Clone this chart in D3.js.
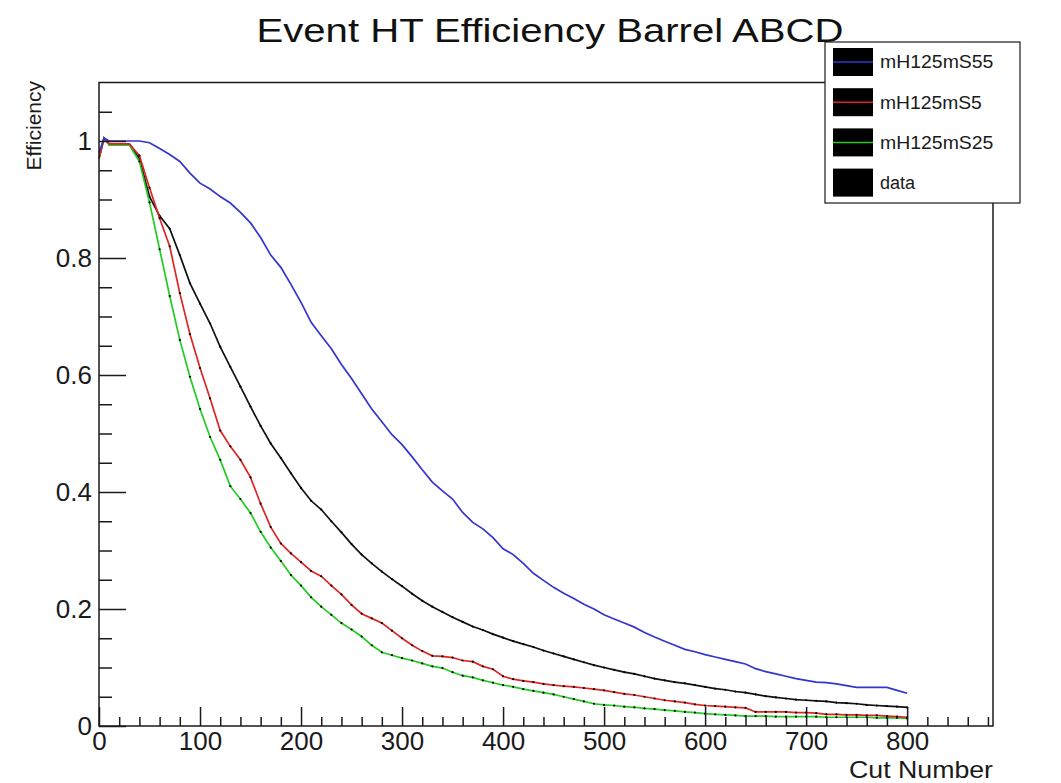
<!DOCTYPE html>
<html>
<head>
<meta charset="utf-8">
<script src="https://cdn.jsdelivr.net/npm/d3@7"></script>
<style>
  body { margin: 0; background: #fff; }
  svg { display: block; font-family: "Liberation Sans", Arial, sans-serif; }
</style>
</head>
<body>
<script>
// data
var cutNumbers = [0, 5, 10, 20, 30, 40, 50, 60, 70, 80, 90, 100, 110, 120, 130, 140, 150, 160, 170, 180, 190,
  200, 210, 220, 230, 240, 250, 260, 270, 280, 290, 300, 310, 320, 330, 340, 350, 360, 370, 380, 390,
  400, 410, 420, 430, 440, 450, 460, 470, 480, 490, 500, 510, 520, 530, 540, 550, 560, 570, 580, 590,
  600, 610, 620, 630, 640, 650, 660, 670, 680, 690, 700, 710, 720, 730, 740, 750, 760, 770, 780, 790, 800];

var effS55 = [0.98, 1.005, 1.0, 1.0, 1.0, 1.0, 0.997, 0.987, 0.977, 0.965, 0.945, 0.928, 0.918, 0.905, 0.894, 0.878, 0.86, 0.835, 0.805, 0.784, 0.755,
  0.724, 0.69, 0.667, 0.645, 0.618, 0.594, 0.568, 0.542, 0.52, 0.498, 0.481, 0.46, 0.438, 0.417, 0.402, 0.388, 0.365, 0.348, 0.337, 0.322,
  0.303, 0.293, 0.278, 0.261, 0.249, 0.237, 0.227, 0.218, 0.208, 0.2, 0.19, 0.183, 0.176, 0.169, 0.16, 0.152, 0.145, 0.138, 0.131, 0.127,
  0.122, 0.118, 0.114, 0.11, 0.106, 0.098, 0.093, 0.089, 0.085, 0.081, 0.078, 0.075, 0.074, 0.072, 0.069, 0.066, 0.066, 0.066, 0.066, 0.061, 0.056];

var effS5 = [0.97, 1.005, 0.995, 0.995, 0.995, 0.975, 0.92, 0.868, 0.82, 0.74, 0.67, 0.612, 0.56, 0.505, 0.478, 0.455, 0.425, 0.38, 0.34, 0.312, 0.295,
  0.28, 0.265, 0.256, 0.24, 0.225, 0.207, 0.192, 0.184, 0.176, 0.163, 0.15, 0.138, 0.128, 0.12, 0.119, 0.117, 0.112, 0.11, 0.102, 0.097,
  0.085, 0.08, 0.077, 0.075, 0.072, 0.07, 0.068, 0.067, 0.065, 0.063, 0.061, 0.058, 0.055, 0.053, 0.05, 0.047, 0.044, 0.042, 0.04, 0.037,
  0.035, 0.034, 0.033, 0.032, 0.031, 0.024, 0.024, 0.024, 0.024, 0.023, 0.023, 0.022, 0.02, 0.02, 0.019, 0.019, 0.018, 0.018, 0.017, 0.016, 0.015];

var effS25 = [0.97, 1.005, 0.993, 0.993, 0.993, 0.965, 0.895, 0.815, 0.735, 0.66, 0.597, 0.542, 0.494, 0.455, 0.41, 0.388, 0.364, 0.332, 0.305, 0.282, 0.258,
  0.24, 0.22, 0.204, 0.19, 0.176, 0.165, 0.153, 0.138, 0.126, 0.121, 0.116, 0.112, 0.107, 0.102, 0.099, 0.092, 0.086, 0.083, 0.078, 0.074,
  0.07, 0.067, 0.063, 0.06, 0.057, 0.054, 0.05, 0.046, 0.042, 0.038, 0.036, 0.035, 0.033, 0.032, 0.03, 0.029, 0.027, 0.026, 0.024, 0.023,
  0.021, 0.02, 0.019, 0.018, 0.017, 0.017, 0.017, 0.016, 0.016, 0.016, 0.016, 0.016, 0.015, 0.015, 0.015, 0.015, 0.015, 0.014, 0.014, 0.014, 0.013];

var effData = [0.97, 1.005, 0.995, 0.995, 0.995, 0.97, 0.905, 0.872, 0.85, 0.805, 0.757, 0.722, 0.688, 0.648, 0.614, 0.58, 0.546, 0.513, 0.483, 0.458, 0.432,
  0.407, 0.385, 0.37, 0.35, 0.331, 0.311, 0.293, 0.278, 0.264, 0.251, 0.239, 0.226, 0.214, 0.204, 0.195, 0.186, 0.178, 0.17, 0.164, 0.157,
  0.151, 0.145, 0.14, 0.135, 0.129, 0.124, 0.119, 0.114, 0.109, 0.104, 0.1, 0.096, 0.092, 0.089, 0.085, 0.081, 0.078, 0.075, 0.073, 0.07,
  0.067, 0.064, 0.062, 0.059, 0.057, 0.054, 0.051, 0.049, 0.047, 0.045, 0.044, 0.043, 0.042, 0.04, 0.039, 0.038, 0.036, 0.035, 0.034, 0.033, 0.032];

var seriesNames = ["mH125mS55", "mH125mS5", "mH125mS25", "data"];
var seriesColors = ["#3434d0", "#e02424", "#22cc22", "#111111"];
var seriesValues = [effS55, effS5, effS25, effData];

var xTickValues = [0, 100, 200, 300, 400, 500, 600, 700, 800];
var xTickLabels = ["0", "100", "200", "300", "400", "500", "600", "700", "800"];
var yTickValues = [0, 0.2, 0.4, 0.6, 0.8, 1];
var yTickLabels = ["0", "0.2", "0.4", "0.6", "0.8", "1"];

// svg container
var width = 1061;
var height = 783;

var margin = { top: 82.5, right: 68, bottom: 57, left: 99 };
var chartWidth = width - margin.left - margin.right;
var chartHeight = height - margin.top - margin.bottom;

var svg = d3.select("body").append("svg")
    .attr("width", width)
    .attr("height", height);

var chartGroup = svg.append("g")
    .attr("transform", `translate(${margin.left}, ${margin.top})`);

// scales
var xScale = d3.scaleLinear().domain([0, 885]).range([0, chartWidth]);
var yScale = d3.scaleLinear().domain([0, 1.1]).range([chartHeight, 0]);

// curves
var line = d3.line()
    .x(d => xScale(d[0]))
    .y(d => yScale(d[1]));

// draw back to front: data, S25, S5, S55
[3, 2, 1, 0].forEach(function(s) {
  var pts = cutNumbers.map((c, i) => [c, seriesValues[s][i]]);
  chartGroup.append("path")
      .datum(pts)
      .attr("fill", "none")
      .attr("stroke", seriesColors[s])
      .attr("stroke-width", 1.7)
      .attr("d", line);
  if (s > 0) {
    chartGroup.selectAll(".dot" + s)
        .data(pts.filter((d, i) => i > 4))
        .enter().append("circle")
        .attr("cx", d => xScale(d[0]))
        .attr("cy", d => yScale(d[1]))
        .attr("r", 1.1)
        .attr("fill", "#000");
  }
});

// axes
var xAxis = d3.axisBottom(xScale)
    .tickValues(xTickValues)
    .tickFormat((d, i) => xTickLabels[i])
    .tickSizeInner(-19).tickSizeOuter(0).tickPadding(6);
var xMinor = d3.axisBottom(xScale)
    .tickValues(d3.range(20, 885, 20).filter(v => v % 100 !== 0))
    .tickFormat("")
    .tickSizeInner(-9).tickSizeOuter(0);
var yAxis = d3.axisLeft(yScale)
    .tickValues(yTickValues)
    .tickFormat((d, i) => yTickLabels[i])
    .tickSizeInner(-27).tickSizeOuter(0).tickPadding(7);
var yMinor = d3.axisLeft(yScale)
    .tickValues(d3.range(1, 22).filter(v => v % 4 !== 0).map(v => v * 0.05))
    .tickFormat("")
    .tickSizeInner(-13).tickSizeOuter(0);

[xAxis, xMinor].forEach(function(ax) {
  chartGroup.append("g")
      .attr("transform", `translate(0, ${chartHeight})`)
      .call(ax);
});
[yAxis, yMinor].forEach(function(ax) {
  chartGroup.append("g").call(ax);
});

chartGroup.selectAll(".tick line").attr("stroke", "#1a1a1a").attr("stroke-width", 1.5);
chartGroup.selectAll(".domain").remove();
chartGroup.selectAll(".tick text")
    .attr("font-size", 26)
    .attr("fill", "#1a1a1a")
    .style("font-family", "'Liberation Sans', Arial, sans-serif");

// frame
chartGroup.append("rect")
    .attr("width", chartWidth)
    .attr("height", chartHeight)
    .attr("fill", "none")
    .attr("stroke", "#1a1a1a")
    .attr("stroke-width", 1.5);

// title and axis labels
svg.append("text")
    .attr("x", 550).attr("y", 42)
    .attr("text-anchor", "middle")
    .attr("font-size", 33)
    .attr("textLength", 587)
    .attr("lengthAdjust", "spacingAndGlyphs")
    .attr("fill", "#111")
    .text("Event HT Efficiency Barrel ABCD");

svg.append("text")
    .attr("transform", "translate(41, 81) rotate(-90)")
    .attr("text-anchor", "end")
    .attr("font-size", 21)
    .attr("fill", "#1a1a1a")
    .text("Efficiency");

svg.append("text")
    .attr("x", margin.left + chartWidth).attr("y", 778)
    .attr("text-anchor", "end")
    .attr("font-size", 24)
    .attr("textLength", 144)
    .attr("lengthAdjust", "spacingAndGlyphs")
    .attr("fill", "#1a1a1a")
    .text("Cut Number");

// legend
var legend = svg.append("g").attr("transform", "translate(825, 42)");
legend.append("rect")
    .attr("width", 195).attr("height", 161)
    .attr("fill", "#fff")
    .attr("stroke", "#1a1a1a")
    .attr("stroke-width", 1.2);

var rows = legend.selectAll(".row")
    .data(seriesNames)
    .enter().append("g")
    .attr("transform", (d, i) => `translate(8, ${20 + i * 40.2})`);

rows.append("rect")
    .attr("y", -14).attr("width", 40).attr("height", 28)
    .attr("fill", "#000");
rows.filter((d, i) => i < 3).append("line")
    .attr("x1", 0).attr("x2", 40)
    .attr("stroke", (d, i) => seriesColors[i])
    .attr("stroke-width", 1.5);
rows.append("text")
    .attr("x", 47)
    .attr("dy", "0.35em")
    .attr("font-size", 18)
    .attr("fill", "#1a1a1a")
    .attr("textLength", (d, i) => i < 3 ? d.length * 12.6 + (i === 1 ? 1 : 0) : null)
    .attr("lengthAdjust", "spacingAndGlyphs")
    .text(d => d);
</script>
</body>
</html>
